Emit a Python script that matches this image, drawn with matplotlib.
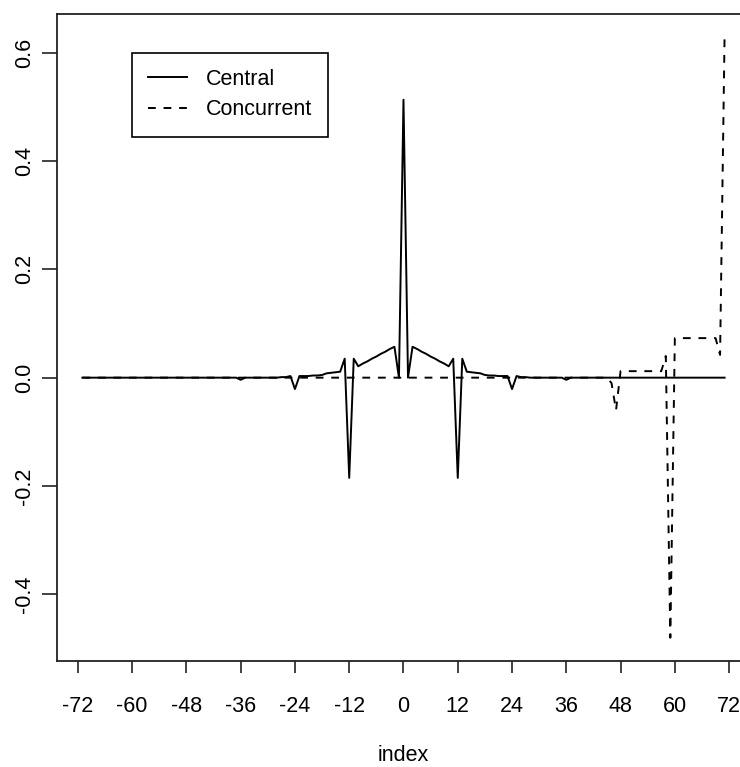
import matplotlib
matplotlib.use("Agg")
import matplotlib.pyplot as plt
import numpy as np

plt.rcParams["font.family"] = ["Liberation Sans", "DejaVu Sans"]

# filter weights, index -71..71
index = np.arange(-71, 72)

# central filter, left half from -71 to 0 (mirrored for the right half)
central_left = [0.0] * 34 + [
    0.0, -0.004, 0.0,                                  # -37..-35
    0.0, 0.0, 0.0, 0.0, 0.0, 0.0, 0.0, 0.001, 0.001,   # -34..-26
    0.003, -0.021, 0.003,                              # -25..-23
    0.003, 0.003, 0.004, 0.004, 0.005,                 # -22..-18
    0.008, 0.009, 0.010, 0.011,                        # -17..-14
    0.035, -0.185, 0.035, 0.021,                       # -13..-10
    0.026, 0.030, 0.035, 0.039, 0.044, 0.048, 0.053, 0.057,  # -9..-2
    0.0, 0.513,                                        # -1, 0
]
central = central_left + central_left[-2::-1]

# concurrent filter, zero up to index 45
concurrent = [0.0] * 117 + [
    -0.010, -0.060,                                    # 46, 47
    0.012, 0.012, 0.012, 0.012, 0.012, 0.012, 0.012, 0.012, 0.012, 0.012,  # 48..57
    0.040, -0.480,                                     # 58, 59
    0.073, 0.073, 0.073, 0.073, 0.073, 0.073, 0.073, 0.073, 0.073, 0.073,  # 60..69
    0.042, 0.633,                                      # 70, 71
]

xticks = [-72, -60, -48, -36, -24, -12, 0, 12, 24, 36, 48, 60, 72]
yticks = [-0.4, -0.2, 0.0, 0.2, 0.4, 0.6]

fig = plt.figure(figsize=(7.4, 7.67), dpi=100)
ax = fig.add_axes([0.0766, 0.1386, 0.9373, 0.8432])

ax.plot(index, central, color="black", lw=1.4, label="Central")
ax.plot(index, concurrent, color="black", lw=1.4, linestyle=(0, (4, 4)), label="Concurrent")

ax.set_xlim(-76.68, 76.68)
ax.set_ylim(-0.5224, 0.6713)
ax.set_xticks(xticks)
ax.set_xticklabels([str(t) for t in xticks])
ax.set_yticks(yticks)
ax.set_yticklabels([f"{t:.1f}" for t in yticks])

for s in ax.spines.values():
    s.set_linewidth(1.3)
    s.set_color("#222222")

ax.tick_params(axis="x", length=8.6, width=1.2, pad=17, labelsize=15.5, color="#222222")
ax.tick_params(axis="y", length=10.5, width=1.2, pad=5, labelsize=15.5, color="#222222")
plt.setp(ax.get_yticklabels(), rotation=90, va="center")

ax.set_xlabel("index", fontsize=15.5)
ax.xaxis.set_label_coords(0.5, -0.131)

leg = ax.legend(loc="upper left", bbox_to_anchor=(0.1081, 0.9402), borderaxespad=0,
                fontsize=15.5, handlelength=1.8, handletextpad=0.9, borderpad=0.75,
                labelspacing=0.45, fancybox=False, edgecolor="black", framealpha=1)
leg.get_frame().set_linewidth(1.2)

fig.savefig("out.png", dpi=100)
